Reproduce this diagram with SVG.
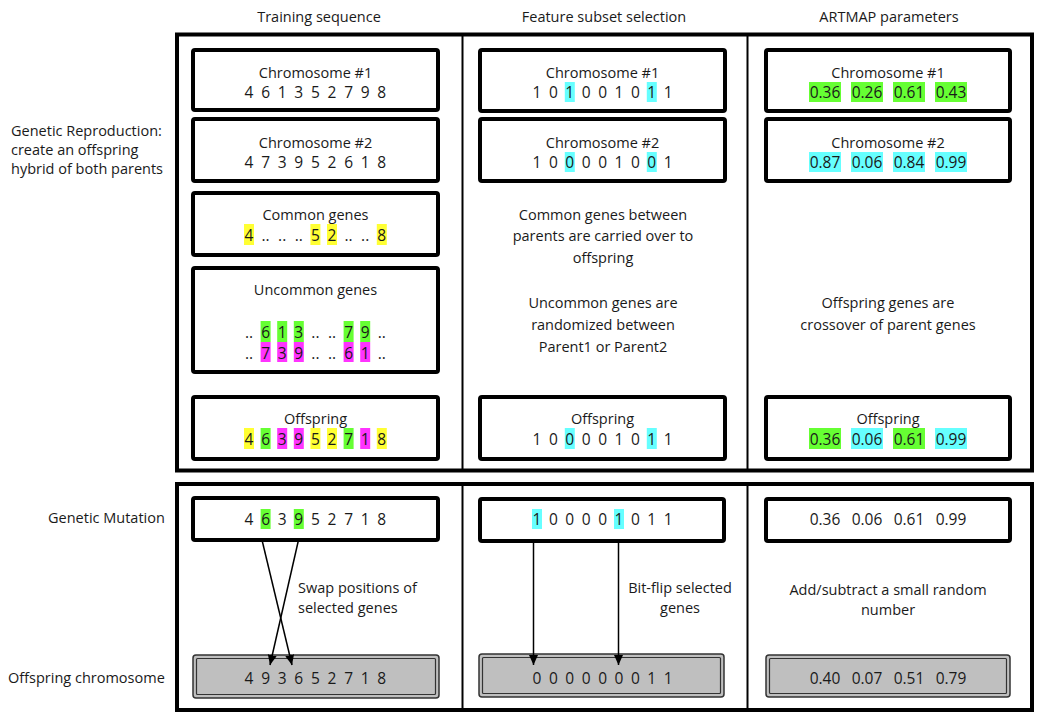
<svg xmlns="http://www.w3.org/2000/svg" width="1037" height="713" viewBox="0 0 1037 713">
<style>
text{font-family:"Open Sans","Liberation Sans",sans-serif;font-size:14.5px;fill:#1a1a1a}
.c{text-anchor:middle}
.d{font-size:15.5px}
.frame{fill:none;stroke:#000;stroke-width:4}
.div{stroke:#000;stroke-width:2}
.box{fill:#fff;stroke:#000;stroke-width:4}
.gout{fill:#bfbfbf;stroke:#333;stroke-width:1.5}
.gin{fill:none;stroke:#333;stroke-width:1.2}
.y{fill:#ffff33}.g{fill:#66ff33}.m{fill:#ff33ff}.cy{fill:#66ffff}
.arr{stroke:#000;stroke-width:1.5;fill:none;marker-end:url(#ah)}
</style>
<defs>
<marker id="ah" markerUnits="userSpaceOnUse" markerWidth="10" markerHeight="10" refX="10" refY="4.5" orient="auto"><path d="M0,0 L10,4.5 L0,9 z" fill="#000"/></marker>
</defs>
<rect width="1037" height="713" fill="#fff"/>

<g id="headers">
<text class="c" x="319" y="22">Training sequence</text>
<text class="c" x="604" y="22">Feature subset selection</text>
<text class="c" x="889" y="22">ARTMAP parameters</text>
</g>
<g id="row-labels">
<text x="11" y="136">Genetic Reproduction:</text>
<text x="11" y="155">create an offspring</text>
<text x="11" y="174">hybrid of both parents</text>
<text x="48" y="523">Genetic Mutation</text>
<text x="8" y="683">Offspring chromosome</text>
</g>

<g id="frames">
<rect class="frame" x="177" y="34.5" width="855" height="436"/>
<line class="div" x1="462.5" y1="36" x2="462.5" y2="469"/>
<line class="div" x1="747.5" y1="36" x2="747.5" y2="469"/>
<rect class="frame" x="177" y="484" width="855" height="226"/>
<line class="div" x1="462.5" y1="486" x2="462.5" y2="710"/>
<line class="div" x1="747.5" y1="486" x2="747.5" y2="710"/>
</g>

<!-- Column 1 -->
<g id="c1-chr1">
<rect class="box" x="193" y="50" width="245" height="60" rx="2"/>
<text class="c" x="315.5" y="78">Chromosome #1</text>
<text class="c d" y="98"><tspan x="249">4</tspan><tspan x="265.6">6</tspan><tspan x="282.2">1</tspan><tspan x="298.8">3</tspan><tspan x="315.4">5</tspan><tspan x="332">2</tspan><tspan x="348.6">7</tspan><tspan x="365.2">9</tspan><tspan x="381.8">8</tspan></text>
</g>
<g id="c1-chr2">
<rect class="box" x="193" y="119" width="245" height="62" rx="2"/>
<text class="c" x="315.5" y="148">Chromosome #2</text>
<text class="c d" y="168"><tspan x="249">4</tspan><tspan x="265.6">7</tspan><tspan x="282.2">3</tspan><tspan x="298.8">9</tspan><tspan x="315.4">5</tspan><tspan x="332">2</tspan><tspan x="348.6">6</tspan><tspan x="365.2">1</tspan><tspan x="381.8">8</tspan></text>
</g>
<g id="c1-common">
<rect class="box" x="193" y="193" width="245" height="62" rx="2"/>
<text class="c" x="315.5" y="220">Common genes</text>
<rect class="y" x="244" y="224" width="10" height="21"/>
<rect class="y" x="310.4" y="224" width="10" height="21"/>
<rect class="y" x="327" y="224" width="10" height="21"/>
<rect class="y" x="376.8" y="224" width="10" height="21"/>
<text class="c d" y="240.5"><tspan x="249">4</tspan><tspan x="265.6">..</tspan><tspan x="282.2">..</tspan><tspan x="298.8">..</tspan><tspan x="315.4">5</tspan><tspan x="332">2</tspan><tspan x="348.6">..</tspan><tspan x="365.2">..</tspan><tspan x="381.8">8</tspan></text>
</g>
<g id="c1-uncommon">
<rect class="box" x="193" y="268" width="245" height="104" rx="2"/>
<text class="c" x="315.5" y="295">Uncommon genes</text>
<rect class="g" x="260.6" y="321" width="10" height="21"/>
<rect class="g" x="277.2" y="321" width="10" height="21"/>
<rect class="g" x="293.8" y="321" width="10" height="21"/>
<rect class="g" x="343.6" y="321" width="10" height="21"/>
<rect class="g" x="360.2" y="321" width="10" height="21"/>
<rect class="m" x="260.6" y="342" width="10" height="20"/>
<rect class="m" x="277.2" y="342" width="10" height="20"/>
<rect class="m" x="293.8" y="342" width="10" height="20"/>
<rect class="m" x="343.6" y="342" width="10" height="20"/>
<rect class="m" x="360.2" y="342" width="10" height="20"/>
<text class="c d" y="338"><tspan x="249">..</tspan><tspan x="265.6">6</tspan><tspan x="282.2">1</tspan><tspan x="298.8">3</tspan><tspan x="315.4">..</tspan><tspan x="332">..</tspan><tspan x="348.6">7</tspan><tspan x="365.2">9</tspan><tspan x="381.8">..</tspan></text>
<text class="c d" y="358.5"><tspan x="249">..</tspan><tspan x="265.6">7</tspan><tspan x="282.2">3</tspan><tspan x="298.8">9</tspan><tspan x="315.4">..</tspan><tspan x="332">..</tspan><tspan x="348.6">6</tspan><tspan x="365.2">1</tspan><tspan x="381.8">..</tspan></text>
</g>
<g id="c1-offspring">
<rect class="box" x="193" y="397" width="245" height="62" rx="2"/>
<text class="c" x="315.5" y="424">Offspring</text>
<rect class="y" x="244" y="428" width="10" height="21"/>
<rect class="g" x="260.6" y="428" width="10" height="21"/>
<rect class="m" x="277.2" y="428" width="10" height="21"/>
<rect class="m" x="293.8" y="428" width="10" height="21"/>
<rect class="y" x="310.4" y="428" width="10" height="21"/>
<rect class="y" x="327" y="428" width="10" height="21"/>
<rect class="g" x="343.6" y="428" width="10" height="21"/>
<rect class="m" x="360.2" y="428" width="10" height="21"/>
<rect class="y" x="376.8" y="428" width="10" height="21"/>
<text class="c d" y="444.5"><tspan x="249">4</tspan><tspan x="265.6">6</tspan><tspan x="282.2">3</tspan><tspan x="298.8">9</tspan><tspan x="315.4">5</tspan><tspan x="332">2</tspan><tspan x="348.6">7</tspan><tspan x="365.2">1</tspan><tspan x="381.8">8</tspan></text>
</g>

<!-- Column 2 -->
<g id="c2-chr1">
<rect class="box" x="480" y="50" width="245" height="61" rx="2"/>
<text class="c" x="602.5" y="78">Chromosome #1</text>
<rect class="cy" x="564.8" y="82" width="10" height="20"/>
<rect class="cy" x="646.8" y="82" width="10" height="20"/>
<text class="c d" y="98"><tspan x="537">1</tspan><tspan x="553.4">0</tspan><tspan x="569.8">1</tspan><tspan x="586.2">0</tspan><tspan x="602.6">0</tspan><tspan x="619">1</tspan><tspan x="635.4">0</tspan><tspan x="651.8">1</tspan><tspan x="668.2">1</tspan></text>
</g>
<g id="c2-chr2">
<rect class="box" x="480" y="119" width="245" height="62" rx="2"/>
<text class="c" x="602.5" y="148">Chromosome #2</text>
<rect class="cy" x="564.8" y="152" width="10" height="20"/>
<rect class="cy" x="646.8" y="152" width="10" height="20"/>
<text class="c d" y="168"><tspan x="537">1</tspan><tspan x="553.4">0</tspan><tspan x="569.8">0</tspan><tspan x="586.2">0</tspan><tspan x="602.6">0</tspan><tspan x="619">1</tspan><tspan x="635.4">0</tspan><tspan x="651.8">0</tspan><tspan x="668.2">1</tspan></text>
</g>
<g id="c2-notes">
<text class="c" x="603" y="220">Common genes between</text>
<text class="c" x="603" y="241">parents are carried over to</text>
<text class="c" x="603" y="263">offspring</text>
<text class="c" x="603" y="308">Uncommon genes are</text>
<text class="c" x="603" y="330">randomized between</text>
<text class="c" x="603" y="352">Parent1 or Parent2</text>
</g>
<g id="c2-offspring">
<rect class="box" x="480" y="397" width="245" height="62" rx="2"/>
<text class="c" x="602.5" y="424">Offspring</text>
<rect class="cy" x="564.8" y="428" width="10" height="21"/>
<rect class="cy" x="646.8" y="428" width="10" height="21"/>
<text class="c d" y="444.5"><tspan x="537">1</tspan><tspan x="553.4">0</tspan><tspan x="569.8">0</tspan><tspan x="586.2">0</tspan><tspan x="602.6">0</tspan><tspan x="619">1</tspan><tspan x="635.4">0</tspan><tspan x="651.8">1</tspan><tspan x="668.2">1</tspan></text>
</g>

<!-- Column 3 -->
<g id="c3-chr1">
<rect class="box" x="766" y="50" width="244" height="61" rx="2"/>
<text class="c" x="888" y="78">Chromosome #1</text>
<rect class="g" x="809" y="82" width="32" height="20"/>
<rect class="g" x="851" y="82" width="32" height="20"/>
<rect class="g" x="893" y="82" width="32" height="20"/>
<rect class="g" x="935" y="82" width="32" height="20"/>
<text class="c d" y="98"><tspan x="825">0.36</tspan><tspan x="867">0.26</tspan><tspan x="909">0.61</tspan><tspan x="951">0.43</tspan></text>
</g>
<g id="c3-chr2">
<rect class="box" x="766" y="119" width="244" height="62" rx="2"/>
<text class="c" x="888" y="148">Chromosome #2</text>
<rect class="cy" x="809" y="152" width="32" height="20"/>
<rect class="cy" x="851" y="152" width="32" height="20"/>
<rect class="cy" x="893" y="152" width="32" height="20"/>
<rect class="cy" x="935" y="152" width="32" height="20"/>
<text class="c d" y="168"><tspan x="825">0.87</tspan><tspan x="867">0.06</tspan><tspan x="909">0.84</tspan><tspan x="951">0.99</tspan></text>
</g>
<g id="c3-notes">
<text class="c" x="888" y="308">Offspring genes are</text>
<text class="c" x="888" y="330">crossover of parent genes</text>
</g>
<g id="c3-offspring">
<rect class="box" x="766" y="397" width="244" height="62" rx="2"/>
<text class="c" x="888" y="424">Offspring</text>
<rect class="g" x="809" y="428" width="32" height="21"/>
<rect class="cy" x="851" y="428" width="32" height="21"/>
<rect class="g" x="893" y="428" width="32" height="21"/>
<rect class="cy" x="935" y="428" width="32" height="21"/>
<text class="c d" y="444.5"><tspan x="825">0.36</tspan><tspan x="867">0.06</tspan><tspan x="909">0.61</tspan><tspan x="951">0.99</tspan></text>
</g>

<!-- Mutation row -->
<g id="c1-mut">
<rect class="box" x="193" y="498" width="245" height="42" rx="2"/>
<rect class="g" x="260.6" y="509" width="10" height="20"/>
<rect class="g" x="293.8" y="509" width="10" height="20"/>
<text class="c d" y="524.5"><tspan x="249">4</tspan><tspan x="265.6">6</tspan><tspan x="282.2">3</tspan><tspan x="298.8">9</tspan><tspan x="315.4">5</tspan><tspan x="332">2</tspan><tspan x="348.6">7</tspan><tspan x="365.2">1</tspan><tspan x="381.8">8</tspan></text>
</g>
<g id="c2-mut">
<rect class="box" x="480" y="499" width="244" height="42" rx="2"/>
<rect class="cy" x="532" y="509" width="10" height="20"/>
<rect class="cy" x="614" y="509" width="10" height="20"/>
<text class="c d" y="524.5"><tspan x="537">1</tspan><tspan x="553.4">0</tspan><tspan x="569.8">0</tspan><tspan x="586.2">0</tspan><tspan x="602.6">0</tspan><tspan x="619">1</tspan><tspan x="635.4">0</tspan><tspan x="651.8">1</tspan><tspan x="668.2">1</tspan></text>
</g>
<g id="c3-mut">
<rect class="box" x="766" y="499" width="244" height="42" rx="2"/>
<text class="c d" y="524.5"><tspan x="825">0.36</tspan><tspan x="867">0.06</tspan><tspan x="909">0.61</tspan><tspan x="951">0.99</tspan></text>
</g>

<g id="mut-notes">
<text x="298" y="592.5">Swap positions of</text>
<text x="298" y="613">selected genes</text>
<text class="c" x="680" y="593">Bit-flip selected</text>
<text class="c" x="680" y="613">genes</text>
<text class="c" x="888" y="595">Add/subtract a small random</text>
<text class="c" x="888" y="615">number</text>
</g>

<!-- Offspring chromosome row -->
<g id="c1-out">
<rect class="gout" x="193" y="655" width="246" height="43" rx="3"/>
<rect class="gin" x="196.5" y="658.5" width="239" height="36" rx="1"/>
<text class="c d" y="684"><tspan x="249">4</tspan><tspan x="265.6">9</tspan><tspan x="282.2">3</tspan><tspan x="298.8">6</tspan><tspan x="315.4">5</tspan><tspan x="332">2</tspan><tspan x="348.6">7</tspan><tspan x="365.2">1</tspan><tspan x="381.8">8</tspan></text>
</g>
<g id="c2-out">
<rect class="gout" x="479" y="654" width="245" height="43" rx="3"/>
<rect class="gin" x="482.5" y="657.5" width="238" height="36" rx="1"/>
<text class="c d" y="684"><tspan x="537">0</tspan><tspan x="553.4">0</tspan><tspan x="569.8">0</tspan><tspan x="586.2">0</tspan><tspan x="602.6">0</tspan><tspan x="619">0</tspan><tspan x="635.4">0</tspan><tspan x="651.8">1</tspan><tspan x="668.2">1</tspan></text>
</g>
<g id="c3-out">
<rect class="gout" x="766" y="655" width="244" height="42" rx="3"/>
<rect class="gin" x="769.5" y="658.5" width="237" height="35" rx="1"/>
<text class="c d" y="684"><tspan x="825">0.40</tspan><tspan x="867">0.07</tspan><tspan x="909">0.51</tspan><tspan x="951">0.79</tspan></text>
</g>

<g id="connectors">
<line class="arr" x1="262" y1="540" x2="292" y2="665"/>
<line class="arr" x1="298.5" y1="540" x2="270" y2="665"/>
<line class="arr" x1="533.5" y1="541" x2="533.5" y2="665"/>
<line class="arr" x1="618.5" y1="541" x2="618.5" y2="665"/>
</g>
</svg>
